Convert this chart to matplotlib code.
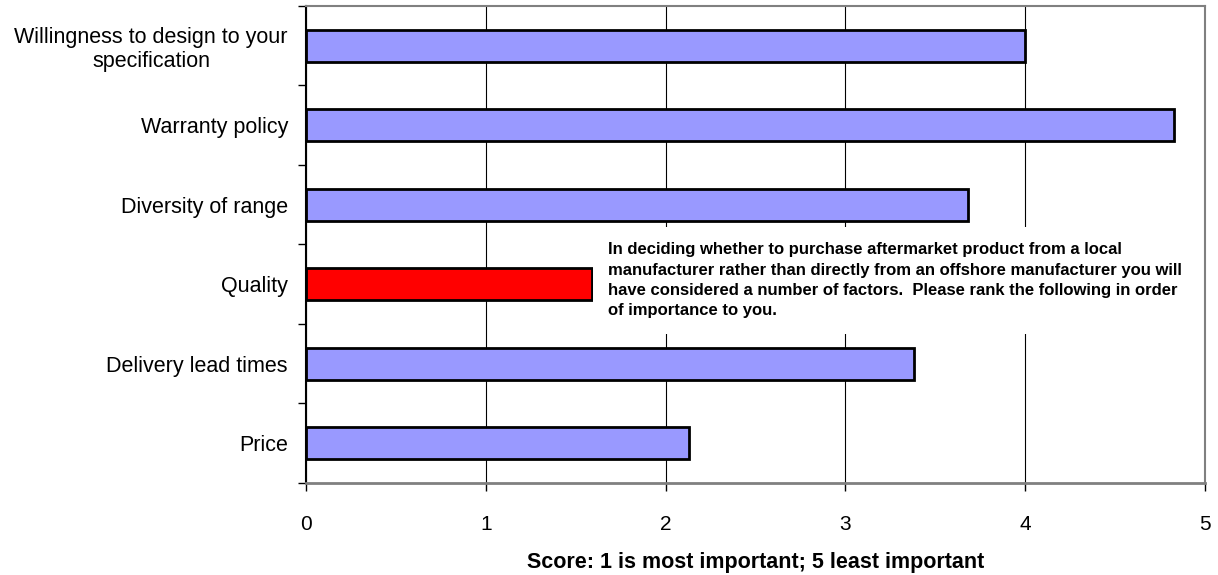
import numpy as np
import matplotlib.pyplot as plt

plt.rcParams['font.family'] = ['Liberation Sans', 'DejaVu Sans']

# factors ranked, top to bottom
factores = ['Willingness to design to your\nspecification', 'Warranty policy',
            'Diversity of range', 'Quality', 'Delivery lead times', 'Price']
scores = [4.0, 4.83, 3.68, 1.59, 3.38, 2.13]
cores = ['#9999FF', '#9999FF', '#9999FF', '#FF0000', '#9999FF', '#9999FF']
x_ticks = [0, 1, 2, 3, 4, 5]

pergunta = ("In deciding whether to purchase aftermarket product from a local\n"
            "manufacturer rather than directly from an offshore manufacturer you will\n"
            "have considered a number of factors.  Please rank the following in order\n"
            "of importance to you.")

fig = plt.figure(figsize=(12.18, 5.75), dpi=100)
ax = fig.add_axes([0.2512, 0.16, 0.738, 0.8296])

pos = np.arange(len(factores))
ax.barh(pos, scores, height=0.4, color=cores, edgecolor='black', linewidth=2, zorder=3)

ax.set_xlim(0, 5)
ax.set_ylim(len(factores) - 0.5, -0.5)
ax.set_xticks(x_ticks)
ax.set_xticklabels([str(t) for t in x_ticks], fontsize=15)
ax.tick_params(axis='x', direction='out', length=6, width=1, pad=17)

# category labels centred on bars, ticks on the boundaries
ax.set_yticks(pos)
ax.set_yticklabels(factores, fontsize=15.5, ha='right', multialignment='center',
                   linespacing=1.15)
ax.tick_params(axis='y', which='major', length=0, pad=13)
ax.set_yticks(np.arange(-0.5, len(factores)), minor=True)
ax.tick_params(axis='y', which='minor', direction='out', length=6, width=1)

ax.grid(axis='x', color='black', linewidth=0.8)
ax.set_axisbelow(True)

for lado in ['top', 'right']:
    ax.spines[lado].set_color('#808080')
    ax.spines[lado].set_linewidth(1.5)
ax.spines['bottom'].set_color('#808080')
ax.spines['bottom'].set_linewidth(2)
ax.spines['left'].set_color('black')
ax.spines['left'].set_linewidth(1.5)

ax.text(1.68, 2.47, pergunta, fontsize=12, fontweight='bold', va='top', ha='left',
        linespacing=1.45, zorder=4,
        bbox=dict(facecolor='white', edgecolor='none', pad=11))

ax.set_xlabel('Score: 1 is most important; 5 least important', fontsize=15.5,
              fontweight='bold', labelpad=13)

plt.savefig('out.png', dpi=100)
